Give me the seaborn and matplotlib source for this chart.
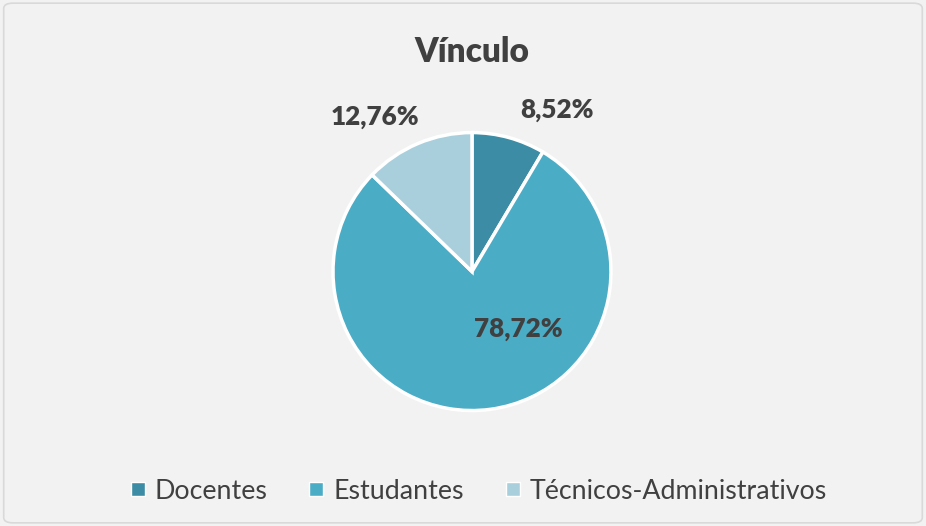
import matplotlib
matplotlib.use("Agg")
import matplotlib.pyplot as plt
import seaborn as sns
from matplotlib.patches import FancyBboxPatch
from matplotlib.lines import Line2D

categories = ["Docentes", "Estudantes", "Técnicos-Administrativos"]
values = [8.52, 78.72, 12.76]
labels = ["8,52%", "78,72%", "12,76%"]
colors = ["#3B8CA4", "#4BACC6", "#A9CFDD"]

sns.set_theme(style="white")
plt.rcParams['font.family'] = ['Lato', 'DejaVu Sans']

fig = plt.figure(figsize=(9.26, 5.26), dpi=100, facecolor="#F2F2F2")
fig.patches.append(FancyBboxPatch((0.004, 0.006), 0.992, 0.988, boxstyle="round,pad=0,rounding_size=0.01",
                                  transform=fig.transFigure, facecolor="none", edgecolor="#D9D9D9",
                                  linewidth=1.2, zorder=-1))

ax = fig.add_axes([0.3596, 0.2195, 0.3002, 0.5285])
ax.set_facecolor("none")
wedges, _ = ax.pie(values, colors=colors, startangle=90, counterclock=False,
                   wedgeprops=dict(edgecolor="white", linewidth=2.5), radius=1)
ax.set_xlim(-1, 1)
ax.set_ylim(-1, 1)
ax.set_aspect("equal")
ax.axis("off")

label_pos = [(0.61, 1.16), (0.33, -0.41), (-0.70, 1.11)]
for (x, y), t in zip(label_pos, labels):
    ax.text(x, y, t, ha="center", va="center", fontsize=18.8, fontweight="heavy", color="#404040")

fig.text(0.51, 0.901, "Vínculo", ha="center", va="center", fontsize=24, fontweight="heavy", color="#404040")

handles = [Line2D([0], [0], marker="s", linestyle="none", markersize=10, markerfacecolor=c,
                  markeredgecolor="white", markeredgewidth=1.0) for c in colors]
fig.legend(handles, categories, loc="center", bbox_to_anchor=(0.516, 0.066), ncol=3, frameon=False,
           fontsize=19.3, handlelength=0.65, handletextpad=0.3, columnspacing=1.5, labelcolor="#404040")

fig.savefig("out.png", dpi=100, facecolor=fig.get_facecolor())
